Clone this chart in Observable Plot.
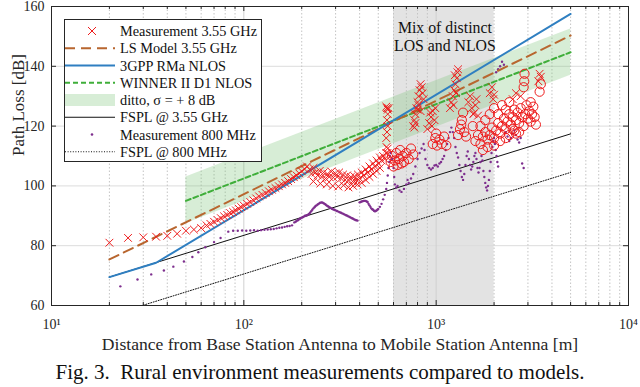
<!DOCTYPE html>
<html><head><meta charset="utf-8">
<script src="https://cdn.jsdelivr.net/npm/d3@7"></script>
<script src="https://cdn.jsdelivr.net/npm/@observablehq/plot@0.6"></script>
<style>
body{margin:0;background:#fff;}
#wrap{position:relative;width:640px;height:387px;font-family:'Liberation Serif','Times New Roman',serif;color:#111;}
#chart svg, #chart svg text{font-family:'Liberation Serif','Times New Roman',serif !important;}
#caption{position:absolute;left:0;top:358px;width:640px;height:29px;line-height:29px;text-align:center;font-size:21px;white-space:pre;}
#legend{position:absolute;left:64px;top:19px;}
</style></head><body>
<div id="wrap"><div id="chart"></div><svg id="legend" width="198" height="143"></svg><div id="caption">Fig. 3.  Rural environment measurements compared to models.</div></div>
<script>
// ---------- axes / ticks ----------
const majorX = [10, 100, 1000, 10000];
const majorXLabels = ["10¹", "10²", "10³", "10⁴"];
const minorX = [20,30,40,50,60,70,80,90,200,300,400,500,600,700,800,900,2000,3000,4000,5000,6000,7000,8000,9000];
const yTicks = [60, 80, 100, 120, 140, 160];
const gridY = [80, 100, 120, 140];
const xLabel = "Distance from Base Station Antenna to Mobile Station Antenna [m]";
const yLabel = "Path Loss [dB]";

// ---------- shaded region ----------
const mixStart = [600];
const mixEnd = [2000];
const mixText = ["Mix of distinct\nLOS and NLOS"];
const mixTextPos = [[1110, 150]];

// ---------- model lines [distance m, path loss dB] ----------
const fspl355 = [[20, 69.5], [5000, 117.4]];
const fspl800 = [[30, 60.1], [5000, 104.5]];
const rma = [[20, 69.5], [35, 74.3], [5000, 157.5]];
const lsModel = [[20, 75.4], [5000, 150.3]];
const winner = [[50, 95.0], [5000, 144.7]];
const winnerLo = [[50, 87.4], [5000, 137.0]];
const winnerHi = [[50, 103.0], [5000, 152.5]];

// ---------- measurements 3.55 GHz (crosses) ----------
const meas355x = [
 [20,81],[25,82.6],[30,82.8],[35,83],[40,83.3],[45,84],[50,85],[55,85.4],[60,85.9],[64,86.8],[67,87.3],[70,88],
 [73,88.6],[76,89.2],[79,89.8],[82,90.3],[85,90.9],[88,91.3],[91,91.8],[94,92.4],[97,92.9],[100,93.4],[104,94],
 [108,94.6],[112,95.2],[116,95.8],[120,96.5],[125,97],[130,97.6],[135,98.2],[140,98.7],[146,99.3],[152,99.9],
 [158,100.5],[164,101],[170,101.6],[176,102.3],[182,102.9],[188,103.5],[194,104.2],[200,104.9],[207,105.6],[213,106.5],
 [220,105.5],[225,104],[230,106],[236,104.5],[242,103.5],[248,105],[254,103],[260,104.5],[266,102.5],[272,104],
 [278,103],[285,104.8],[292,102.8],[299,104.2],[306,103],[313,104.5],[320,102.5],[328,103.8],[336,102],[344,103.5],
 [352,101.8],[360,103],[368,101.5],[376,103.2],[384,102],[392,103.8],[400,102.5],[410,104.5],[420,103.5],[430,105.5],
 [440,104.5],[450,106.5],[460,105.5],[470,107.5],[480,106.5],[490,108.5],[500,107.5],[510,109.5],[520,108.5],
 [530,110],[540,109],[550,111],[560,112.5],
 [230,101.5],[250,100.8],[270,100.5],[290,100],[310,99.8],[330,100.2],[350,99.5],[370,100],[390,100.5],[410,101],
 [430,102],[450,103],[470,104],[490,105],[510,106],
 [550,116],[555,118],[560,120],[555,122],[560,124],[565,126],[558,111],[552,113],[555,126],[560,125.5],[550,126.5],
 [760,120],[770,122],[780,124],[790,126],[800,128],[810,130],[820,132],[830,134],[840,133],[850,131],[860,129],
 [800,125.5],[780,121],[770,119.5],[810,127],[830,125],
 [900,119],[920,121],[940,123],[960,125],[980,122],[950,120],[930,124.5],[990,126],
 [1180,126],[1200,128],[1220,130],[1240,132],[1260,134],[1280,136],[1290,138],[1300,139],[1250,137],[1230,127],[1270,131],
 [1470,128],[1500,130],[1530,126],[1560,124],[1600,127],[1620,129],[1650,123.5],[1570,124.3],
 [1900,131],[1950,133],[1980,129],[2000,130.5],[2500,129],[2600,131],[2750,130],[3400,135],[3450,137.5],[3500,136.5]
];

// ---------- measurements 3.55 GHz (circles) ----------
const meas355o = [
 [580,108],[590,110],[600,106.5],[610,108.5],[620,111],[630,107],[640,109],[650,112],[660,107.5],[670,110],
 [680,108],[700,111],[720,109],[740,112.5],[760,110.5],
 [960,114],[990,116],[1010,113.5],[1040,115.5],[1070,114],[1100,116.5],[1130,113.5],[1000,117.5],
 [1300,117],[1330,119],[1360,122],[1380,124.5],[1400,118],[1430,116.5],[1350,120.5],
 [1550,120],[1600,115],[1650,117],[1700,114],[1750,116.5],[1800,118],[1850,115.5],[1900,117],[1950,119.5],[2000,116],
 [2050,118.5],[2100,121],[2150,117.5],[2200,120],[2250,122.5],[2300,119],[2350,121.5],[2400,124],[2450,120.5],
 [2500,123],[2550,125.5],[2600,122],[2650,124.5],[2700,121],[2750,126],[2800,123],[2850,120],[2900,124],[2950,127],
 [3000,122.5],[3050,125],[3100,121.5],[3150,124],[3200,126.5],[3250,123],[3300,120.5],
 [1700,120],[1800,122],[1900,124],[2000,126],[2100,124],[2200,127],[2300,125.5],[2400,128],[2500,119],[2600,117.5],
 [2700,118],[1750,112],[1850,113],[2000,113.5],[2150,115],[2300,116],[2400,117],[2550,118.5],[3100,128],
 [2850,133],[2870,135],[2880,137.5],[3500,134],[3450,131.5]
];

// ---------- measurements 800 MHz ----------
const meas800 = [
 [22.8,66.4],[28,68.7],[33,70.4],[38.4,71.7],[43,73],[48.8,74.7],[54,76.2],[58,77.8],[63,79.5],[70,81.2],[75.7,82.6],[83,84.7],
 [88,85],[93,85],[98,85.1],[103,85],[108,85.1],[113,85.2],[118,85],[123,85.2],[128,85.3],[133,85.4],[138,85.5],[143,85.6],
 [148,85.8],[153,86],[158,86.1],[163,86.3],[168,86.5],[173,86.6],[178,86.8],
 [183,87.8],[186,88],[188,88.3],[191,88.5],[193,88.8],[196,89],[198,89.3],[201,89.4],[203,89.6],[206,89.8],[208,90],
 [211,90.1],[213,90.2],[216,90.4],[218,90.6],[221,91],[224,91.5],[227,92],[230,92.5],[233,92.9],[236,93.3],[239,93.5],
 [242,93.8],[245,94],[248,94.3],[251,94.4],[254,94.5],[257,94.4],[260,94.2],[263,94],
 [266,93.8],[269,93.5],[272,93.3],[275,93.1],[278,92.9],[281,92.7],[285,92.5],[288,92.3],[292,92.1],[296,92],[300,91.8],
 [305,91.6],[310,91.4],[315,91.2],[320,91],[325,90.8],[330,90.6],[335,90.4],[340,90.2],[345,90],[350,89.8],[355,89.6],
 [360,89.4],[365,89.2],[370,89],[375,88.8],[380,88.6],[385,88.5],[390,88.4],
 [400,94.5],[405,94.6],[410,94.8],[415,94.9],[420,95],[425,95],[430,95],[435,94.8],[440,94.6],[445,94],[450,93.5],
 [455,93],[460,92.5],[465,92.2],[470,92],[475,91.7],[480,91.5],[485,91.6],[490,91.8],[495,92],[500,92.3],
 [510,93],[520,94],[530,95.5],[540,97],[550,99],[555,101],[560,103.5],[565,106],[570,108],[575,110],[580,111],
 [590,109],[600,106],[605,103],[610,100.5],[620,99.5],[630,100],[645,98.5],[660,98],[680,99],[700,100.5],[710,102],
 [720,101],[740,102.5],[760,104],[780,106.5],[800,109],[820,111],[840,112.5],[860,114],[870,112],[880,109],[900,107],
 [920,106],[940,105.5],[960,106],[980,106.8],[1000,107],[1020,106.5],[1040,107.5],[1060,108],[1080,109],[1100,110],
 [1120,112],[1140,114],[1160,116],[1180,118],[1200,119.5],[1220,118],[1240,116],[1260,113],[1280,111],[1300,109.5],
 [1320,107],[1340,105],[1360,103],[1380,102],[1400,104],[1420,107],[1440,110],[1460,111.5],
 [1480,109],[1500,107],[1520,105.5],[1540,106.5],[1560,108],[1580,110],[1600,111],[1620,109],[1640,106],[1660,104.5],
 [1680,106],[1700,108],[1720,110],[1740,108.5],[1760,105],[1780,103],[1800,101],[1820,99.5],[1840,98.5],[1860,100],
 [1880,102],[1900,105],[1920,108],[1940,111],[1960,113],[1980,115],[2000,116],[2020,114],[2040,112],[2060,110],
 [2080,108],[2100,106.5],[2050,138],[2100,139],[2150,140],[2200,141.5],[2250,140.5],
 [2300,118],[2350,116.5],[2400,115],[2450,116],[2500,117.5],[2550,118.5],[2600,117],[2650,115.5],[2700,114.5],
 [2750,116],[2800,107.5],[2850,106]
];

// ---------- legend ----------
const legendLabels = ["Measurement 3.55 GHz","LS Model 3.55 GHz","3GPP RMa NLOS","WINNER II D1 NLOS",
  "ditto, σ = + 8 dB","FSPL @ 3.55 GHz","Measurement 800 MHz","FSPL @ 800 MHz"];

// colours
const C = {red:"#ee1c1c", brown:"#b8662f", blue:"#2f7fc1", green:"#3fae3a", band:"#7cc576", purple:"#7e2f8e", ink:"#262626"};
const FONT = "'Liberation Serif','Times New Roman',serif";

// layout
const W = 640, H = 358, mT = 6, mB = 53, mL = 51, mR = 12;
const frameW = W - mL - mR, frameH = H - mT - mB;

const pts = a => a.map(([d, pl]) => ({d, pl}));
const band = winnerLo.map(([d, lo], i) => ({d, lo, hi: winnerHi[i][1]}));
const mix = mixStart.map((s, i) => ({d1: s, d2: mixEnd[i]}));
const mixLbl = mixTextPos.map(([d, pl], i) => ({d, pl, t: mixText[i]}));

const chart = Plot.plot({
  width: W, height: H,
  marginTop: mT, marginBottom: mB, marginLeft: mL, marginRight: mR,
  x: {type: "log", domain: [10, 10000], label: null, axis: null},
  y: {domain: [60, 160], label: null, axis: null},
  style: {fontFamily: FONT, fontSize: "14px", color: C.ink, background: "white", overflow: "visible"},
  marks: [
    Plot.rect(mix, {x1: "d1", x2: "d2", fill: "#e3e3e3"}),
    Plot.ruleY(gridY, {stroke: "#dcdcdc"}),
    Plot.ruleX(minorX, {stroke: "#c4c4c4", strokeDasharray: "1.5,2"}),
    Plot.ruleX(majorX.slice(1, 3), {stroke: "#d0d0d0"}),
    Plot.areaY(band, {x: "d", y1: "lo", y2: "hi", fill: C.band, fillOpacity: 0.3}),
    Plot.line(pts(fspl800), {x: "d", y: "pl", stroke: "#111", strokeWidth: 1, strokeDasharray: "1,1.6"}),
    Plot.line(pts(fspl355), {x: "d", y: "pl", stroke: "#111", strokeWidth: 1}),
    Plot.dot(pts(meas800), {x: "d", y: "pl", r: 1.2, fill: C.purple, stroke: "none"}),
    Plot.line(pts(winner), {x: "d", y: "pl", stroke: C.green, strokeWidth: 2, strokeDasharray: "5,3"}),
    Plot.line(pts(lsModel), {x: "d", y: "pl", stroke: C.brown, strokeWidth: 2, strokeDasharray: "10,6"}),
    Plot.line(pts(rma), {x: "d", y: "pl", stroke: C.blue, strokeWidth: 2}),
    Plot.dot(pts(meas355x), {x: "d", y: "pl", symbol: "times", r: 3.6, stroke: C.red, strokeWidth: 1}),
    Plot.dot(pts(meas355o), {x: "d", y: "pl", r: 4.6, stroke: C.red, strokeWidth: 1, fill: "none"}),
    Plot.text(mixLbl, {x: "d", y: "pl", text: "t", fontSize: 15.8, lineHeight: 1.15, fill: "#111", fontFamily: FONT}),
    Plot.frame({stroke: C.ink}),
    // inward ticks (bottom/top minor + major, left/right)
    Plot.ruleX(minorX, {stroke: C.ink, insetTop: frameH - 3}),
    Plot.ruleX(minorX, {stroke: C.ink, insetBottom: frameH - 3}),
    Plot.ruleX(majorX, {stroke: C.ink, insetTop: frameH - 5}),
    Plot.ruleX(majorX, {stroke: C.ink, insetBottom: frameH - 5}),
    Plot.ruleY(yTicks, {stroke: C.ink, insetRight: frameW - 5}),
    Plot.ruleY(yTicks, {stroke: C.ink, insetLeft: frameW - 5}),
    // tick labels
    Plot.axisX({anchor: "bottom", ticks: majorX, tickSize: 0, tickPadding: 14, tickFormat: d => majorXLabels[majorX.indexOf(d)], label: null, fill: C.ink, fontSize: 14, fontFamily: FONT}),
    Plot.axisY({anchor: "left", ticks: yTicks, tickSize: 0, tickPadding: 7, label: null, fill: C.ink, fontSize: 14, fontFamily: FONT}),
    // axis titles
    Plot.text([xLabel], {frameAnchor: "bottom", dy: 44, text: d => d, fontSize: 17.6, fill: C.ink, fontFamily: FONT}),
    Plot.text([yLabel], {frameAnchor: "left", dx: -33, rotate: -90, text: d => d, fontSize: 17, fill: C.ink, fontFamily: FONT})
  ]
});
document.getElementById("chart").appendChild(chart);

// legend box
const lg = d3.select("#legend");
lg.append("rect").attr("x", 0.5).attr("y", 0.5).attr("width", 197).attr("height", 142)
  .attr("fill", "white").attr("stroke", C.ink);
legendLabels.forEach((lab, i) => {
  const cy = 12 + i * 17.25;
  const g = lg.append("g").attr("transform", `translate(0,${cy})`);
  if (i === 0) {
    g.append("path").attr("d", "M24,-4L32,4M24,4L32,-4").attr("stroke", C.red).attr("fill", "none");
  } else if (i === 1) {
    g.append("line").attr("x1", 1).attr("x2", 51).attr("stroke", C.brown).attr("stroke-width", 2).attr("stroke-dasharray", "10,6");
  } else if (i === 2) {
    g.append("line").attr("x1", 1).attr("x2", 51).attr("stroke", C.blue).attr("stroke-width", 2);
  } else if (i === 3) {
    g.append("line").attr("x1", 1).attr("x2", 51).attr("stroke", C.green).attr("stroke-width", 2).attr("stroke-dasharray", "5,3");
  } else if (i === 4) {
    g.append("rect").attr("x", 1).attr("y", -6).attr("width", 50).attr("height", 12).attr("fill", C.band).attr("fill-opacity", 0.3);
  } else if (i === 5) {
    g.append("line").attr("x1", 1).attr("x2", 51).attr("stroke", "#111").attr("stroke-width", 1);
  } else if (i === 6) {
    g.append("circle").attr("cx", 28).attr("r", 1.3).attr("fill", C.purple);
  } else {
    g.append("line").attr("x1", 1).attr("x2", 51).attr("stroke", "#111").attr("stroke-width", 1).attr("stroke-dasharray", "1,1.6");
  }
  g.append("text").attr("x", 56).attr("dy", "0.35em").attr("font-size", 14.3)
    .attr("font-family", FONT).attr("fill", "#111").text(lab);
});
</script>
</body></html>
